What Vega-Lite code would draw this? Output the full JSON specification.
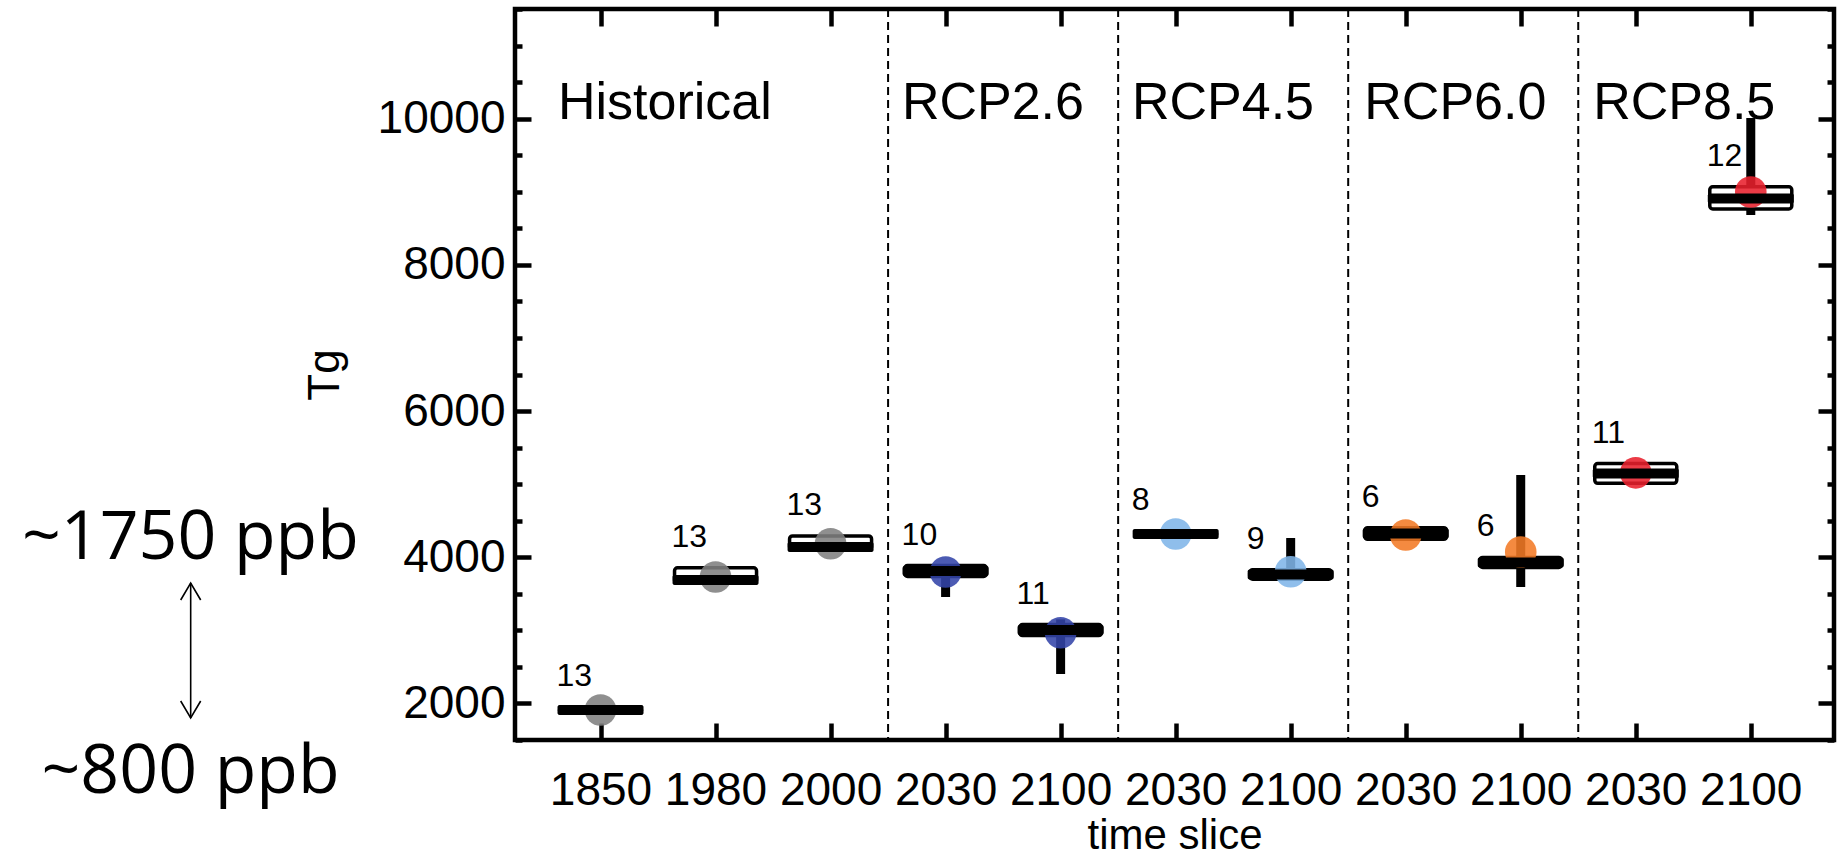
{
  "$schema": "https://vega.github.io/schema/vega-lite/v6.json",
  "width": 1319,
  "height": 731,
  "autosize": "none",
  "padding": {"left": 515, "top": 9, "right": 5, "bottom": 118},
  "background": "white",
  "config": {
    "view": {"stroke": "black", "strokeWidth": 4.5},
    "font": "Liberation Sans",
    "axis": {"labelOverlap": false, "labelFlush": false, "grid": false, "domain": false}
  },
  "datasets": {
    "stats": [
      {"i": 0, "scen": "Historical", "n": 13, "lo": 1869, "q1": 1869, "med": 1910, "q3": 1945, "hi": 1945, "mean": 1910},
      {"i": 1, "scen": "Historical", "n": 13, "lo": 3644, "q1": 3644, "med": 3689, "q3": 3856, "hi": 3856, "mean": 3730},
      {"i": 2, "scen": "Historical", "n": 13, "lo": 4099, "q1": 4099, "med": 4140, "q3": 4291, "hi": 4291, "mean": 4184},
      {"i": 3, "scen": "RCP2.6", "n": 10, "lo": 3456, "q1": 3737, "med": 3812, "q3": 3887, "hi": 3887, "mean": 3798},
      {"i": 4, "scen": "RCP2.6", "n": 11, "lo": 2403, "q1": 2929, "med": 3005, "q3": 3080, "hi": 3150, "mean": 2967},
      {"i": 5, "scen": "RCP4.5", "n": 8, "lo": 4280, "q1": 4280, "med": 4318, "q3": 4355, "hi": 4355, "mean": 4318},
      {"i": 6, "scen": "RCP4.5", "n": 9, "lo": 3700, "q1": 3700, "med": 3764, "q3": 3829, "hi": 4263, "mean": 3802},
      {"i": 7, "scen": "RCP6.0", "n": 6, "lo": 4246, "q1": 4246, "med": 4325, "q3": 4404, "hi": 4404, "mean": 4305},
      {"i": 8, "scen": "RCP6.0", "n": 6, "lo": 3593, "q1": 3860, "med": 3928, "q3": 3997, "hi": 5125, "mean": 4072},
      {"i": 9, "scen": "RCP8.5", "n": 11, "lo": 5012, "q1": 5012, "med": 5146, "q3": 5282, "hi": 5282, "mean": 5155},
      {"i": 10, "scen": "RCP8.5", "n": 12, "lo": 8682, "q1": 8764, "med": 8908, "q3": 9068, "hi": 10009, "mean": 8997}
    ],
    "dividers": [{"x": 2.5}, {"x": 4.5}, {"x": 6.5}, {"x": 8.5}],
    "scenarios": [
      {"label": "Historical", "x0": -0.37},
      {"label": "RCP2.6", "x0": 2.62},
      {"label": "RCP4.5", "x0": 4.62},
      {"label": "RCP6.0", "x0": 6.64},
      {"label": "RCP8.5", "x0": 8.63}
    ],
    "notes": [
      {"label": "~1750 ppb", "x": -5.03, "y": 3976},
      {"label": "~800 ppb", "x": -4.86, "y": 775}
    ],
    "arrow": [{"x": -3.563, "top": 3648, "bottom": 1801}]
  },
  "layer": [
    {
      "data": {"name": "dividers"},
      "mark": {"type": "rule", "strokeDash": [8, 5], "strokeWidth": 2, "color": "black"},
      "encoding": {
        "x": {
          "field": "x", "type": "quantitative",
          "scale": {"domain": [-0.7, 10.68], "nice": false, "zero": false},
          "axis": {
            "orient": "bottom",
            "values": [0, 1, 2, 3, 4, 5, 6, 7, 8, 9, 10],
            "labelExpr": "['1850','1980','2000','2030','2100','2030','2100','2030','2100','2030','2100'][datum.value]",
            "tickSize": -17, "tickWidth": 4.5, "tickColor": "black",
            "labelFont": "Liberation Sans", "labelFontSize": 46, "labelColor": "black", "labelPadding": 45,
            "title": "time slice", "titleFont": "Liberation Sans", "titleFontSize": 42,
            "titleFontWeight": "normal", "titleColor": "black", "titlePadding": 2
          }
        }
      }
    },
    {
      "data": {"name": "stats"},
      "mark": {"type": "rule", "strokeWidth": 9, "color": "black", "strokeCap": "butt"},
      "encoding": {
        "x": {
          "field": "i", "type": "quantitative",
          "scale": {"domain": [-0.7, 10.68], "nice": false, "zero": false},
          "axis": {
            "orient": "top", "values": [0, 1, 2, 3, 4, 5, 6, 7, 8, 9, 10],
            "labels": false, "tickSize": -17, "tickWidth": 4.5, "tickColor": "black", "title": null
          }
        },
        "y": {
          "field": "lo", "type": "quantitative",
          "scale": {"domain": [1500, 11500], "nice": false, "zero": false},
          "axis": {
            "orient": "left",
            "values": [1500, 2000, 2500, 3000, 3500, 4000, 4500, 5000, 5500, 6000, 6500, 7000, 7500, 8000, 8500, 9000, 9500, 10000, 10500, 11000, 11500],
            "format": "d",
            "labelExpr": "datum.value % 2000 === 0 ? datum.label : ''",
            "tickSize": {"condition": {"test": "datum.value % 2000 === 0", "value": -16}, "value": -7},
            "tickWidth": 4.5, "tickColor": "black",
            "labelFont": "Liberation Sans", "labelFontSize": 46, "labelColor": "black", "labelPadding": 26,
            "title": "Tg", "titleFont": "Liberation Sans", "titleFontSize": 44,
            "titleFontWeight": "normal", "titleColor": "black", "titlePadding": 30
          }
        },
        "y2": {"field": "hi"}
      }
    },
    {
      "data": {"name": "stats"},
      "mark": {"type": "bar", "width": 82, "fill": "white", "stroke": "black", "strokeWidth": 3.5, "cornerRadius": 3},
      "encoding": {
        "x": {"field": "i", "type": "quantitative", "scale": {"domain": [-0.7, 10.68], "nice": false, "zero": false}, "axis": null},
        "y": {
          "field": "q1", "type": "quantitative",
          "scale": {"domain": [1500, 11500], "nice": false, "zero": false},
          "axis": {
            "orient": "right",
            "values": [1500, 2000, 2500, 3000, 3500, 4000, 4500, 5000, 5500, 6000, 6500, 7000, 7500, 8000, 8500, 9000, 9500, 10000, 10500, 11000, 11500],
            "labels": false,
            "tickSize": {"condition": {"test": "datum.value % 2000 === 0", "value": -16}, "value": -7},
            "tickWidth": 4.5, "tickColor": "black", "title": null
          }
        },
        "y2": {"field": "q3"}
      }
    },
    {
      "data": {"name": "stats"},
      "mark": {"type": "point", "shape": "circle", "filled": true, "size": 1000, "opacity": 0.88, "strokeWidth": 0},
      "encoding": {
        "x": {"field": "i", "type": "quantitative", "scale": {"domain": [-0.7, 10.68], "nice": false, "zero": false}, "axis": null},
        "y": {"field": "mean", "type": "quantitative", "scale": {"domain": [1500, 11500], "nice": false, "zero": false}, "axis": null},
        "color": {
          "field": "scen", "type": "nominal",
          "scale": {"domain": ["Historical", "RCP2.6", "RCP4.5", "RCP6.0", "RCP8.5"], "range": ["#7f7f7f", "#3344a8", "#80b5e8", "#f27a26", "#e8202c"]},
          "legend": null
        }
      }
    },
    {
      "data": {"name": "stats"},
      "mark": {"type": "tick", "orient": "horizontal", "size": 86, "thickness": 10, "color": "black", "opacity": 1, "cornerRadius": 2},
      "encoding": {
        "x": {"field": "i", "type": "quantitative", "scale": {"domain": [-0.7, 10.68], "nice": false, "zero": false}, "axis": null},
        "y": {"field": "med", "type": "quantitative", "scale": {"domain": [1500, 11500], "nice": false, "zero": false}, "axis": null}
      }
    },
    {
      "data": {"name": "stats"},
      "mark": {"type": "text", "align": "left", "baseline": "alphabetic", "dx": -44, "dy": -21, "fontSize": 32, "font": "Liberation Sans", "color": "black"},
      "encoding": {
        "x": {"field": "i", "type": "quantitative", "scale": {"domain": [-0.7, 10.68], "nice": false, "zero": false}, "axis": null},
        "y": {"field": "q3", "type": "quantitative", "scale": {"domain": [1500, 11500], "nice": false, "zero": false}, "axis": null},
        "text": {"field": "n", "type": "quantitative"}
      }
    },
    {
      "data": {"name": "scenarios"},
      "mark": {"type": "text", "align": "left", "baseline": "alphabetic", "fontSize": 52, "font": "Liberation Sans", "color": "black"},
      "encoding": {
        "x": {"field": "x0", "type": "quantitative", "scale": {"domain": [-0.7, 10.68], "nice": false, "zero": false}, "axis": null},
        "y": {"datum": 10000, "type": "quantitative", "scale": {"domain": [1500, 11500], "nice": false, "zero": false}, "axis": null},
        "text": {"field": "label", "type": "nominal"}
      }
    },
    {
      "data": {"name": "notes"},
      "mark": {"type": "text", "align": "left", "baseline": "alphabetic", "fontSize": 68, "font": "Open Sans", "color": "black"},
      "encoding": {
        "x": {"field": "x", "type": "quantitative", "scale": {"domain": [-0.7, 10.68], "nice": false, "zero": false}, "axis": null},
        "y": {"field": "y", "type": "quantitative", "scale": {"domain": [1500, 11500], "nice": false, "zero": false}, "axis": null},
        "text": {"field": "label", "type": "nominal"}
      }
    },
    {
      "data": {"name": "arrow"},
      "mark": {"type": "rule", "strokeWidth": 1.6, "color": "black"},
      "encoding": {
        "x": {"field": "x", "type": "quantitative", "scale": {"domain": [-0.7, 10.68], "nice": false, "zero": false}, "axis": null},
        "y": {"field": "top", "type": "quantitative", "scale": {"domain": [1500, 11500], "nice": false, "zero": false}, "axis": null},
        "y2": {"field": "bottom"}
      }
    },
    {
      "data": {"name": "arrow"},
      "mark": {"type": "point", "shape": "M-1,1.7L0,0L1,1.7", "filled": false, "size": 400, "stroke": "black", "strokeWidth": 1.6, "opacity": 1},
      "encoding": {
        "x": {"field": "x", "type": "quantitative", "scale": {"domain": [-0.7, 10.68], "nice": false, "zero": false}, "axis": null},
        "y": {"field": "top", "type": "quantitative", "scale": {"domain": [1500, 11500], "nice": false, "zero": false}, "axis": null}
      }
    },
    {
      "data": {"name": "arrow"},
      "mark": {"type": "point", "shape": "M-1,-1.7L0,0L1,-1.7", "filled": false, "size": 400, "stroke": "black", "strokeWidth": 1.6, "opacity": 1},
      "encoding": {
        "x": {"field": "x", "type": "quantitative", "scale": {"domain": [-0.7, 10.68], "nice": false, "zero": false}, "axis": null},
        "y": {"field": "bottom", "type": "quantitative", "scale": {"domain": [1500, 11500], "nice": false, "zero": false}, "axis": null}
      }
    }
  ],
  "resolve": {"axis": {"x": "independent", "y": "independent"}}
}
